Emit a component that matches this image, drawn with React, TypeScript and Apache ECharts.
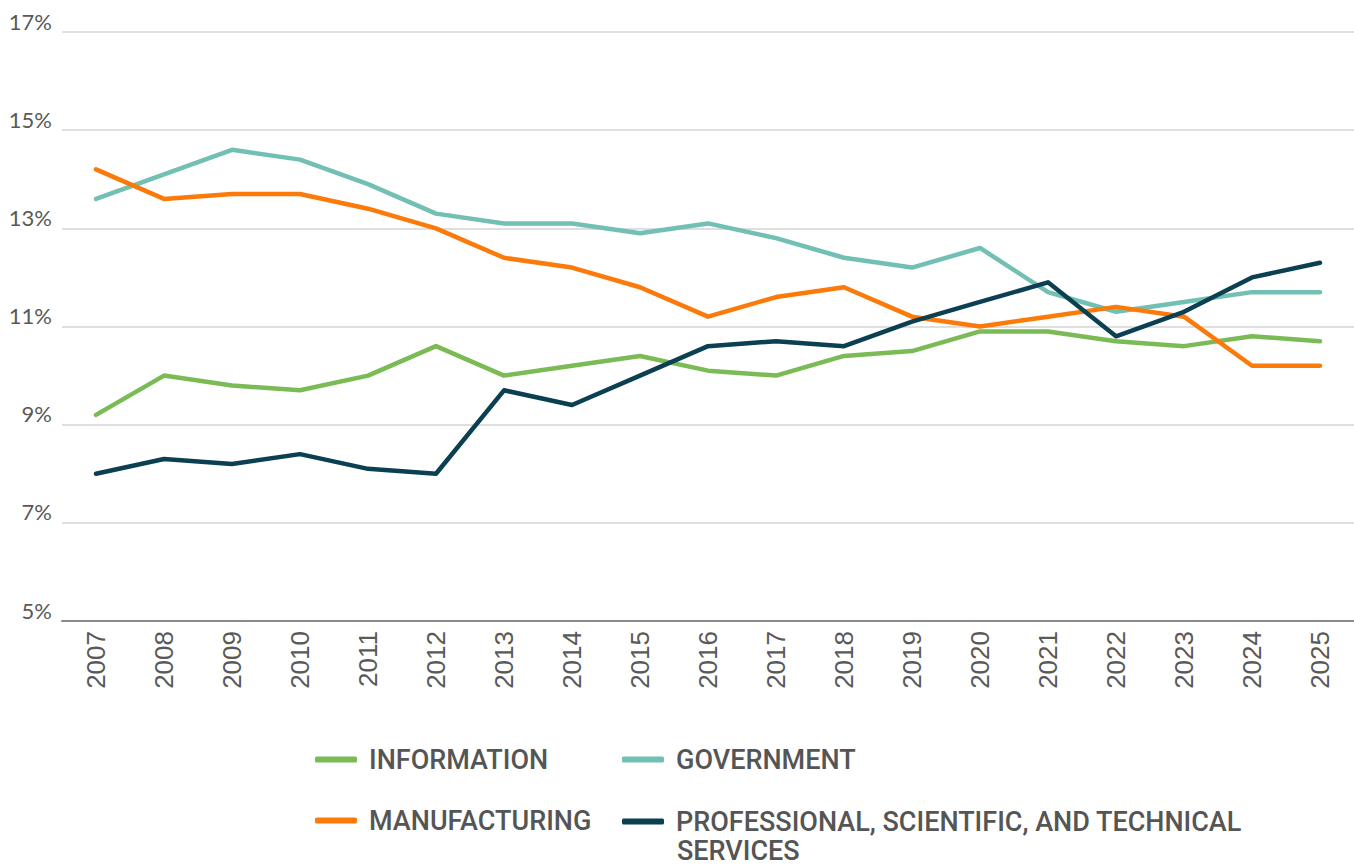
import React, { useEffect, useRef } from "react";
import * as echarts from "echarts";

const years = ["2007","2008","2009","2010","2011","2012","2013","2014","2015","2016","2017","2018","2019","2020","2021","2022","2023","2024","2025"];
const information = [9.2,10.0,9.8,9.7,10.0,10.6,10.0,10.2,10.4,10.1,10.0,10.4,10.5,10.9,10.9,10.7,10.6,10.8,10.7];
const government = [13.6,14.1,14.6,14.4,13.9,13.3,13.1,13.1,12.9,13.1,12.8,12.4,12.2,12.6,11.7,11.3,11.5,11.7,11.7];
const manufacturing = [14.2,13.6,13.7,13.7,13.4,13.0,12.4,12.2,11.8,11.2,11.6,11.8,11.2,11.0,11.2,11.4,11.2,10.2,10.2];
const professional = [8.0,8.3,8.2,8.4,8.1,8.0,9.7,9.4,10.0,10.6,10.7,10.6,11.1,11.5,11.9,10.8,11.3,12.0,12.3];

const NAMES = ["INFORMATION", "GOVERNMENT", "MANUFACTURING", "PROFESSIONAL, SCIENTIFIC, AND TECHNICAL SERVICES"];
const COLORS = ["#7bbb55", "#72bfb4", "#fb7a0a", "#0b3f52"];

export default function App() {
  const ref = useRef<HTMLDivElement>(null);
  useEffect(() => {
    document.body.style.margin = "0";
    const chart = echarts.init(ref.current!, null, { renderer: "svg" });
    const legendText = { color: "#555555", fontFamily: "Roboto", fontWeight: 500, fontSize: 27, lineHeight: 27 };
    const legendPos = [
      { left: 315, top: 746 },
      { left: 622, top: 746 },
      { left: 315, top: 807 },
      { left: 622, top: 808 },
    ];
    const legends = NAMES.map((n, i) => ({
      data: [n],
      left: legendPos[i].left,
      top: legendPos[i].top,
      icon: "roundRect",
      itemWidth: 42,
      itemHeight: 6,
      itemGap: 0,
      padding: 0,
      selectedMode: false,
      textStyle: { ...legendText, padding: [0, 0, 0, 7] },
      formatter: (name: string) =>
        name.startsWith("PROFESSIONAL") ? "PROFESSIONAL, SCIENTIFIC, AND TECHNICAL" : name,
    }));
    const seriesData = [information, government, manufacturing, professional];
    chart.setOption({
      animation: false,
      color: COLORS,
      grid: { left: 62, right: 0, top: 32, bottom: 865 - 621, containLabel: false },
      legend: legends,
      graphic: [
        {
          type: "text",
          left: 677,
          top: 837,
          style: { text: "SERVICES", fill: "#555555", font: "500 27px Roboto", lineHeight: 27 },
        },
      ],
      xAxis: {
        type: "category",
        data: years,
        boundaryGap: true,
        axisLine: { lineStyle: { color: "#8a8a8a", width: 2 } },
        axisTick: { show: false },
        axisLabel: {
          rotate: 90,
          margin: 10,
          color: "#595959",
          fontFamily: "Liberation Sans",
          fontSize: 26,
        },
      },
      yAxis: {
        type: "value",
        min: 5,
        max: 17,
        interval: 2,
        axisLine: { show: false },
        axisTick: { show: false },
        axisLabel: {
          formatter: "{value}%",
          color: "#595959",
          fontFamily: "Lato",
          fontSize: 22,
          margin: 10,
          verticalAlign: "bottom",
        },
        splitLine: { lineStyle: { color: "#d4d4d4", width: 1.5 } },
      },
      series: NAMES.map((n, i) => ({
        name: n,
        type: "line",
        data: seriesData[i],
        showSymbol: false,
        symbol: "none",
        lineStyle: { width: 4.5, color: COLORS[i], cap: "round", join: "round" },
        itemStyle: { color: COLORS[i] },
      })),
    });
    return () => chart.dispose();
  }, []);
  return <div ref={ref} style={{ width: 1354, height: 865 }} />;
}
